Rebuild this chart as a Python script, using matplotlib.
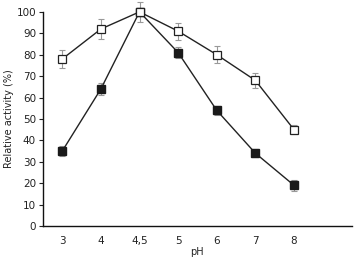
import numpy as np
import matplotlib.pyplot as plt

# Data
ph_labels = ["3", "4", "4,5", "5", "6", "7", "8"]
open_vals = [78, 92, 100, 91, 80, 68, 45]
open_err = [4, 4.5, 4.5, 4, 4, 3.5, 2]
filled_vals = [35, 64, 100, 81, 54, 34, 19]
filled_err = [2.5, 3, 2, 2.5, 2, 2, 2.5]

x = np.arange(len(ph_labels))

fig = plt.figure(figsize=(3.58, 2.64), dpi=100)
ax = fig.add_axes([0.12, 0.144, 0.863, 0.811])

for vals, err in [(open_vals, open_err), (filled_vals, filled_err)]:
    eb = ax.errorbar(x, vals, yerr=err, fmt='none', ecolor='#999999',
                     elinewidth=0.8, capsize=2.5, capthick=0.8, zorder=1)
    for art in eb.lines[1] + eb.lines[2]:
        art.set_clip_on(False)
# filled first so the open square sits on top at pH 4,5
ax.plot(x, filled_vals, color='#222222', lw=1.0, marker='s', ms=5.5,
        mfc='#1a1a1a', mec='#1a1a1a', zorder=3, clip_on=False)
ax.plot(x, open_vals, color='#222222', lw=1.0, marker='s', ms=5.5,
        mfc='white', mec='#222222', mew=0.9, zorder=4, clip_on=False)

ax.set_xlim(-0.5, 7.5)
ax.set_ylim(0, 100)
ax.set_yticks(range(0, 101, 10))
ax.set_xticks(x)
ax.set_xticklabels(ph_labels)
ax.tick_params(axis='x', length=0, pad=7, labelsize=7.5, colors='#222222')
ax.tick_params(axis='y', length=3, width=0.8, pad=2, labelsize=7.5, colors='#222222')
for s in ['top', 'right']:
    ax.spines[s].set_visible(False)
for s in ['left', 'bottom']:
    ax.spines[s].set_linewidth(1.0)
    ax.spines[s].set_color('#111111')

ax.set_xlabel("pH", fontsize=7, labelpad=1, color='#222222')
ax.set_ylabel("Relative activity (%)", fontsize=7, labelpad=2, color='#222222')

fig.savefig("out.png", dpi=100)
